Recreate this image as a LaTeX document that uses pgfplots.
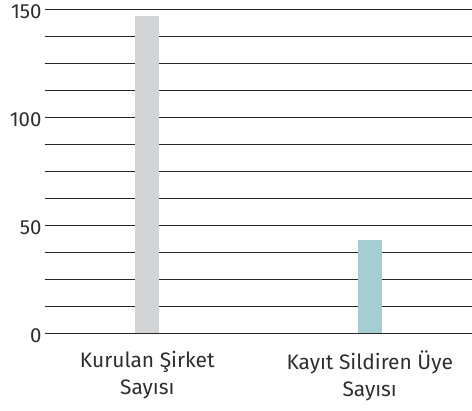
\documentclass[border=0pt]{standalone}
\usepackage{fontspec}
\setmainfont{Fira Sans}
\usepackage{pgfplots}
\pgfplotsset{compat=1.18}
\definecolor{barA}{HTML}{D3D4D6}
\definecolor{barB}{HTML}{A5CED3}
\definecolor{txt}{HTML}{2E2E2E}
\begin{document}
\begin{tikzpicture}
\begin{axis}[
  scale only axis,
  width=427bp, height=324bp,
  xmin=-0.46, xmax=1.46,
  ymin=0, ymax=150,
  ytick={0,50,100,150},
  minor ytick={12.5,25,37.5,62.5,75,87.5,112.5,125,137.5},
  ymajorgrids, yminorgrids,
  major grid style={draw=black!85, line width=0.9bp},
  minor grid style={draw=black!85, line width=0.9bp},
  axis line style={draw=none},
  tick style={draw=none},
  xtick={0,1},
  xticklabels={{Kurulan Şirket\\Sayısı},{Kayıt Sildiren Üye\\Sayısı}},
  xticklabel style={align=center, font=\fontsize{21}{27}\selectfont, text=txt, anchor=north, yshift=-10bp},
  yticklabel style={font=\fontsize{20.5}{22}\selectfont, text=txt, anchor=east, xshift=0bp, yshift=-2bp},
  /pgf/number format/assume math mode=true,
  ybar, bar width=24bp,
  clip=false,
]
\addplot[fill=barA, draw=none, bar shift=0pt] coordinates {(0,147)};
\addplot[fill=barB, draw=none, bar shift=0pt] coordinates {(1,43)};
\end{axis}
\pgfresetboundingbox
\path ([shift={(-45bp,-77.7bp)}]current axis.south west) rectangle ([shift={(0bp,9.3bp)}]current axis.north east);
\end{tikzpicture}
\end{document}
